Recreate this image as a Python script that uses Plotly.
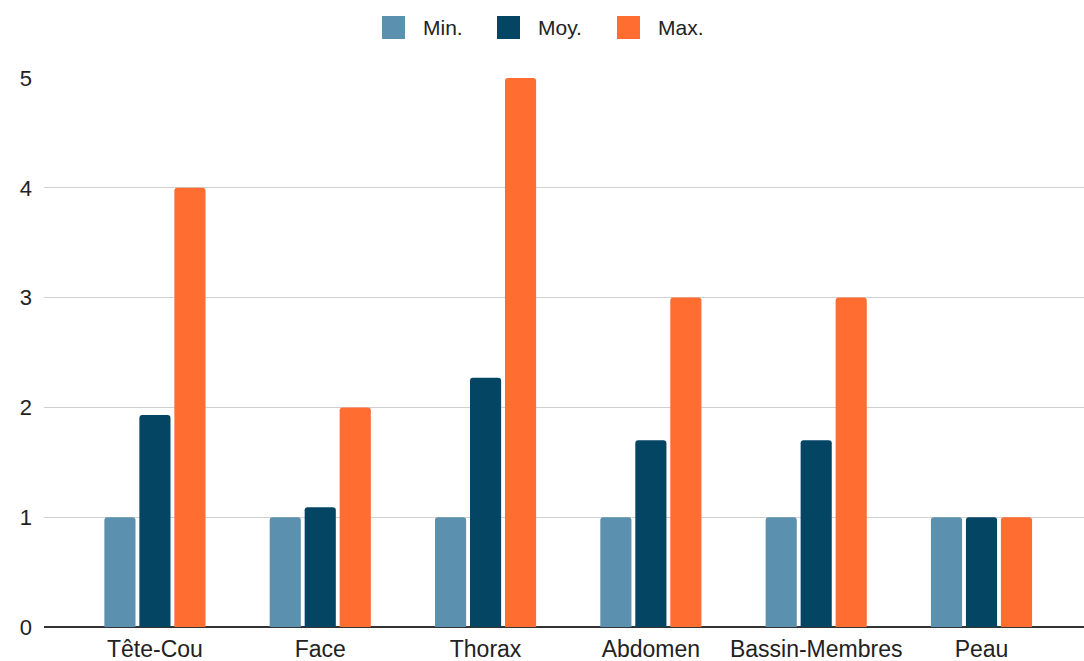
import plotly.graph_objects as go

categories = ["Tête-Cou", "Face", "Thorax", "Abdomen", "Bassin-Membres", "Peau"]
min_vals = [1, 1, 1, 1, 1, 1]
moy_vals = [1.93, 1.09, 2.27, 1.70, 1.70, 1.0]
max_vals = [4, 2, 5, 3, 3, 1]
series_names = ["Min.", "Moy.", "Max."]
colors = ["#5b91af", "#034563", "#ff6d31"]
y_ticks = [0, 1, 2, 3, 4, 5]

W, H = 1084, 661
ML, MR, MT, MB = 44, 0, 78, 34
PW, PH = W - ML - MR, H - MT - MB

fig = go.Figure()
for name, vals, col in zip(series_names, [min_vals, moy_vals, max_vals], colors):
    fig.add_trace(go.Bar(x=categories, y=vals, name=name, showlegend=False,
                         marker=dict(color=col, line=dict(width=0))))

font = "Liberation Sans, Arial, sans-serif"
txt = "#222222"

# custom legend (large rounded squares) at the top centre
def px_x(p):
    return (p - ML) / PW

def px_y(p):
    return (H - MB - p) / PH

legend_square_x = [382, 497, 617]
for name, col, sx in zip(series_names, colors, legend_square_x):
    fig.add_shape(type="rect", xref="paper", yref="paper",
                  x0=px_x(sx), x1=px_x(sx + 23), y0=px_y(16), y1=px_y(39),
                  fillcolor=col, line=dict(width=0), layer="above")
    fig.add_annotation(xref="paper", yref="paper", x=px_x(sx + 39), y=px_y(27.5),
                       text=name, showarrow=False, xanchor="left", yanchor="middle",
                       font=dict(family=font, size=21, color=txt))

fig.update_layout(
    width=W, height=H,
    margin=dict(l=ML, r=MR, t=MT, b=MB),
    paper_bgcolor="white", plot_bgcolor="white",
    barmode="group", bargap=0.365, bargroupgap=0.11, barcornerradius=3,
    font=dict(family=font, size=22, color=txt),
    showlegend=False,
)
fig.update_xaxes(range=[-0.671, 5.62], showgrid=False, showline=False, zeroline=False,
                 ticks="", tickfont=dict(size=23, color=txt), ticklabelstandoff=6)
fig.update_yaxes(range=[0, 5], tickvals=y_ticks, showgrid=True, gridcolor="#d0d0d0", gridwidth=1,
                 zeroline=True, zerolinecolor="#333333", zerolinewidth=2, showline=False,
                 ticks="", tickfont=dict(size=22, color=txt), ticklabelstandoff=11)
fig.write_html("out.html")
